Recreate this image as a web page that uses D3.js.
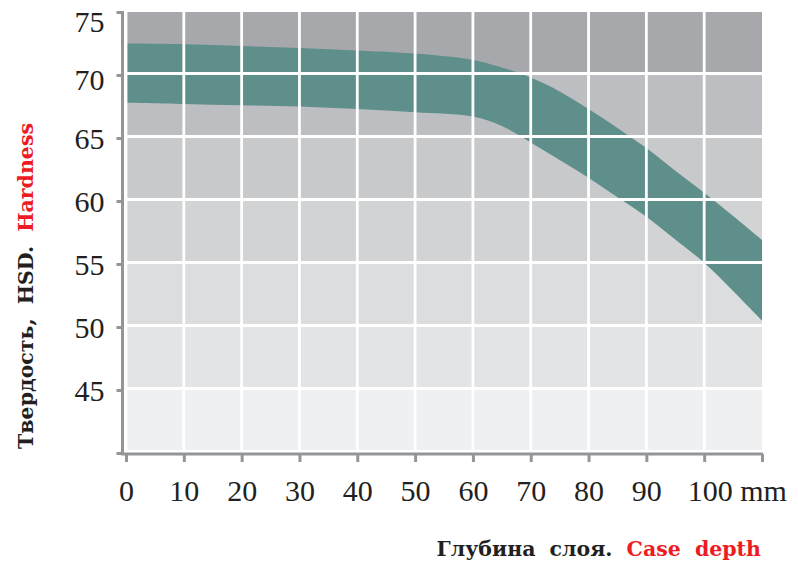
<!DOCTYPE html>
<html>
<head>
<meta charset="utf-8">
<script src="https://cdn.jsdelivr.net/npm/d3@7"></script>
<style>
  html, body { margin: 0; padding: 0; background: #fff; }
  svg { display: block; }
</style>
</head>
<body>
<svg id="chart" width="798" height="563"></svg>
<script>
// ---- data ----
const depth = [0, 10, 20, 30, 40, 50, 60, 65, 70, 75, 80, 85, 90, 95, 100, 105, 110];
const hardnessUpper = [72.5, 72.45, 72.3, 72.15, 71.95, 71.7, 71.2, 70.6, 69.8, 68.7, 67.3, 65.8, 64.2, 62.4, 60.65, 58.8, 56.9];
const hardnessLower = [67.8, 67.7, 67.6, 67.5, 67.3, 67.05, 66.7, 65.95, 64.65, 63.25, 61.85, 60.3, 58.75, 56.95, 55.1, 52.85, 50.5];
const xTicks = [0, 10, 20, 30, 40, 50, 60, 70, 80, 90, 100, 110];
const yTicks = [40, 45, 50, 55, 60, 65, 70, 75];
const bandStarts = [40, 45, 50, 55, 60, 65, 70];
const xTitle = ["Глубина слоя. ", "Case depth"];
const yTitle = ["Твердость, HSD. ", "Hardness"];

// ---- styles ----
const bandColors = ["#eff0f2", "#e3e4e6", "#dcdddf", "#d2d3d5", "#c8c9cb", "#bdbec2", "#a7a8ac"];
const bandFill = "#5f8f8b";
const axisColor = "#939598";
const ink = "#231f20";
const red = "#ed1c24";
const tickFont = "'Liberation Serif', 'Times New Roman', serif";
const titleFont = "'DejaVu Serif', serif";

const svg = d3.select("#chart");
const x = d3.scaleLinear().domain([0, 110]).range([126, 762]);
const y = d3.scaleLinear().domain([40, 75]).range([453, 12]);

// background bands
svg.append("g").selectAll("rect").data(bandStarts).join("rect")
  .attr("x", x(0))
  .attr("width", x(110) - x(0))
  .attr("y", d => y(d + 5))
  .attr("height", d => y(d) - y(d + 5))
  .attr("fill", (d, i) => bandColors[i]);

// hardness band
const rows = depth.map((d, i) => ({ d, hi: hardnessUpper[i], lo: hardnessLower[i] }));
const area = d3.area()
  .x(r => x(r.d))
  .y0(r => y(r.lo))
  .y1(r => y(r.hi))
  .curve(d3.curveCatmullRom.alpha(0.5));
svg.append("path").datum(rows).attr("d", area).attr("fill", bandFill);

// grid
const grid = svg.append("g").attr("stroke", "#fff").attr("stroke-width", 2.8);
grid.selectAll("line.v").data(xTicks.filter(t => t < 110)).join("line").attr("class", "v")
  .attr("x1", d => x(d)).attr("x2", d => x(d))
  .attr("y1", y(75)).attr("y2", y(40));
grid.selectAll("line.h").data(yTicks.filter(t => t < 75)).join("line").attr("class", "h")
  .attr("x1", x(0)).attr("x2", x(110))
  .attr("y1", d => y(d) - 1.5).attr("y2", d => y(d) - 1.5);

// axes
const yAxis = d3.axisLeft(y).tickValues(yTicks).tickSize(6).tickSizeOuter(0)
  .tickFormat(d => d === 40 ? "" : d);
const gy = svg.append("g").attr("transform", "translate(122.5,0)").call(yAxis);
const xAxis = d3.axisBottom(x).tickValues(xTicks).tickSize(8).tickSizeOuter(0)
  .tickFormat(d => d === 110 ? "" : (d === 100 ? "100 mm" : d));
const gx = svg.append("g").attr("transform", "translate(0,454)").call(xAxis);

[gx, gy].forEach(g => {
  g.attr("font-family", null).attr("font-size", null);
  g.select(".domain").attr("stroke", axisColor).attr("stroke-width", 3);
  g.selectAll(".tick line").attr("stroke", axisColor).attr("stroke-width", 3);
  g.selectAll("text").style("font-family", tickFont).style("font-size", "30px").style("fill", ink);
});
gy.select(".domain").attr("d", `M0,${y(75) - 1}V${y(40) + 1.5}`);
gx.select(".domain").attr("d", `M${x(0) - 5},0H${x(110) + 1}`);
gy.selectAll(".tick text").attr("x", -18).attr("dy", d => d === 75 ? "0.65em" : (d === 70 ? "0.48em" : "0.35em"));
gx.selectAll(".tick text").attr("y", 47).attr("dy", 0)
  .attr("text-anchor", d => d === 100 ? "start" : "middle")
  .attr("x", d => d === 100 ? -17 : 0);

// titles
const xt = svg.append("text").attr("x", 761).attr("y", 556).attr("text-anchor", "end")
  .style("font-family", titleFont).style("font-size", "20.5px").style("font-weight", "bold")
  .style("word-spacing", "7px");
xt.append("tspan").text(xTitle[0]).style("fill", ink);
xt.append("tspan").text(xTitle[1]).style("fill", red);

const yt = svg.append("text").attr("transform", "translate(33,123) rotate(-90)")
  .attr("text-anchor", "end")
  .style("font-family", titleFont).style("font-size", "20.5px").style("font-weight", "bold")
  .style("word-spacing", "7px");
yt.append("tspan").text(yTitle[0]).style("fill", ink);
yt.append("tspan").text(yTitle[1]).style("fill", red);
</script>
</body>
</html>
